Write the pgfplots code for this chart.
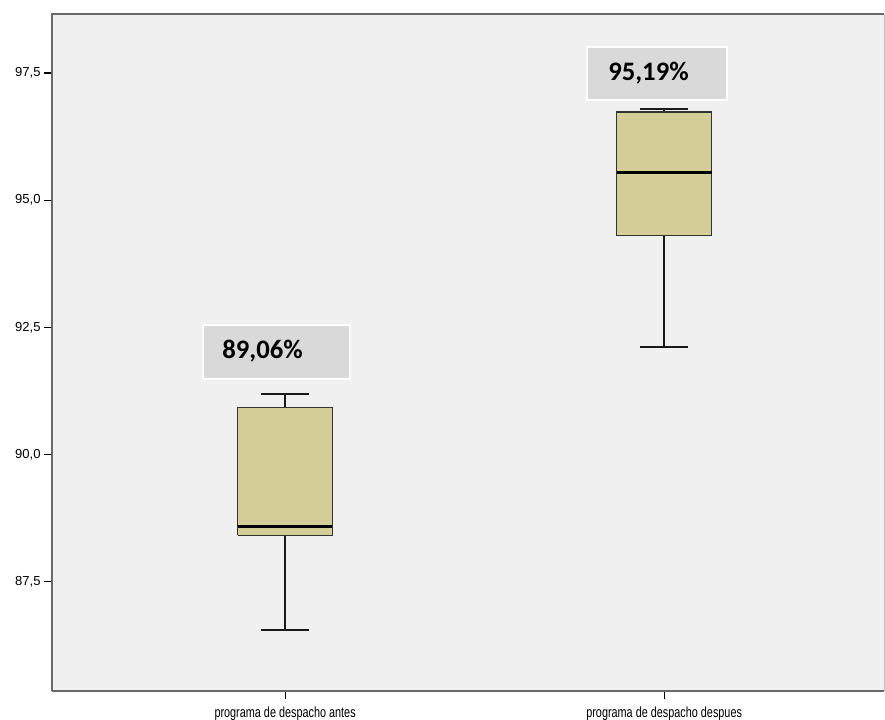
\documentclass[border=0pt]{standalone}
\usepackage{fontspec}
\setmainfont{Liberation Sans}
\newfontfamily\calibri{Carlito}
\newfontfamily\narrow[FakeStretch=0.74]{Liberation Sans}
\usepackage{pgfplots}
\pgfplotsset{compat=1.18}
\definecolor{bg}{RGB}{240,240,240}
\definecolor{boxfill}{RGB}{211,206,152}
\definecolor{lbl}{RGB}{217,217,217}
\definecolor{frame}{RGB}{105,105,105}
\begin{document}
\begin{tikzpicture}
\path[use as bounding box] (0pt,0pt) rectangle (663.75pt,540pt);
\begin{axis}[
  at={(39pt,21.75pt)}, anchor=south west,
  scale only axis, width=624pt, height=507.75pt,
  xmin=0.385, xmax=2.580, ymin=85.35, ymax=98.66,
  axis background/.style={fill=bg},
  axis line style={draw=none},
  xtick={1,2},
  xticklabels={programa de despacho antes, programa de despacho despues},
  ytick={87.5,90,92.5,95,97.5},
  yticklabel style={/pgf/number format/fixed, /pgf/number format/fixed zerofill, /pgf/number format/precision=1, /pgf/number format/use comma},
  /pgf/number format/assume math mode=true,
  tick align=outside,
  major tick length=6pt,
  tick style={black, line width=0.9pt},
  xtick pos=bottom, ytick pos=left,
  yticklabel style={font=\fontsize{9.8}{10}\selectfont, xshift=1pt},
  xticklabel style={font=\narrow\fontsize{11}{12}\selectfont, yshift=-2pt},
  clip=false,
  wh/.style={draw=black!90, line width=1.3pt, mark=none},
]
% ---- box 1: lower whisker 86.55, Q1 88.41, median 88.58, Q3 90.93, upper whisker 91.19
\addplot[wh] coordinates {(1,86.55) (1,88.41)};
\addplot[wh] coordinates {(1,90.93) (1,91.19)};
\addplot[wh] coordinates {(0.9375,86.55) (1.0625,86.55)};
\addplot[wh] coordinates {(0.9375,91.19) (1.0625,91.19)};
\addplot[draw=black!80, line width=1pt, fill=boxfill, mark=none]
  coordinates {(0.875,88.41) (1.125,88.41) (1.125,90.93) (0.875,90.93) (0.875,88.41)};
\addplot[draw=black, line width=2.3pt, mark=none] coordinates {(0.875,88.58) (1.125,88.58)};
% ---- box 2: lower whisker 92.12, Q1 94.30, median 95.55, Q3 96.73, upper whisker 96.79
\addplot[wh] coordinates {(2,92.12) (2,94.30)};
\addplot[wh] coordinates {(2,96.73) (2,96.79)};
\addplot[wh] coordinates {(1.9375,92.12) (2.0625,92.12)};
\addplot[wh] coordinates {(1.9375,96.79) (2.0625,96.79)};
\addplot[draw=black!80, line width=1pt, fill=boxfill, mark=none]
  coordinates {(1.875,94.30) (2.125,94.30) (2.125,96.73) (1.875,96.73) (1.875,94.30)};
\addplot[draw=black, line width=2.3pt, mark=none] coordinates {(1.875,95.55) (2.125,95.55)};
% frame
\draw[frame, line width=1.6pt] (rel axis cs:0,0) -- (rel axis cs:0,1) -- (rel axis cs:1,1);
\draw[frame, line width=1.6pt] (rel axis cs:0,0) -- (rel axis cs:1,0);
\draw[black!25, line width=0.6pt] (rel axis cs:1,0) -- (rel axis cs:1,1);
% labels
\fill[lbl, draw=white, line width=1.5pt] (axis cs:0.784,91.48) rectangle (axis cs:1.1715,92.55);
\node[anchor=west, inner sep=0pt, font=\calibri\bfseries\fontsize{20}{20}\selectfont] at (axis cs:0.834,92.03) {89,06\%};
\fill[lbl, draw=white, line width=1.5pt] (axis cs:1.797,96.97) rectangle (axis cs:2.166,98.01);
\node[anchor=west, inner sep=0pt, font=\calibri\bfseries\fontsize{20}{20}\selectfont] at (axis cs:1.852,97.50) {95,19\%};
\end{axis}
\end{tikzpicture}
\end{document}
